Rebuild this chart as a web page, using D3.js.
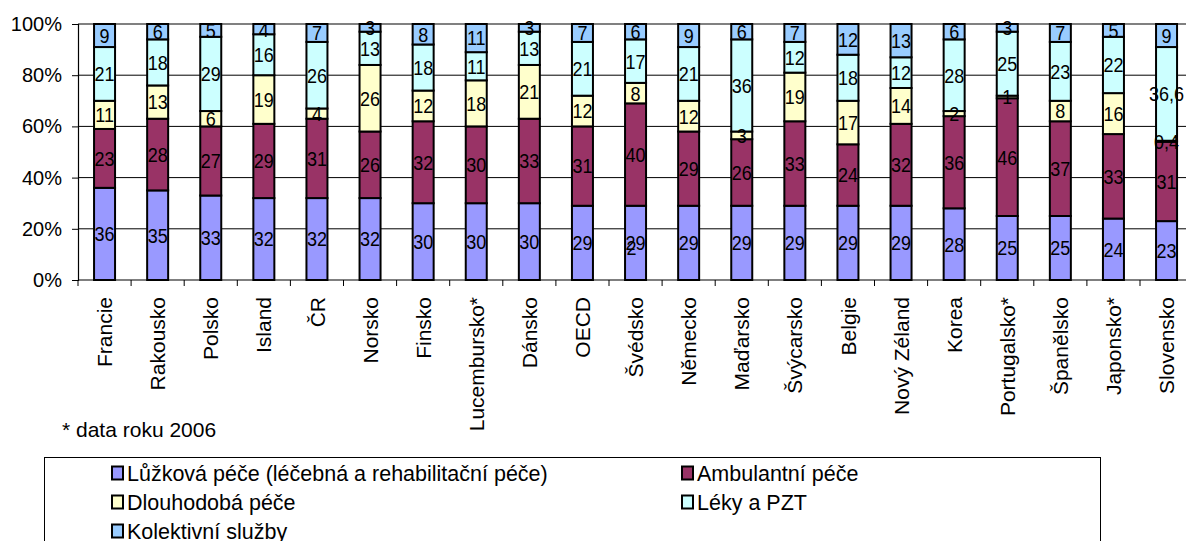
<!DOCTYPE html>
<html>
<head>
<meta charset="utf-8">
<script src="https://cdn.jsdelivr.net/npm/d3@7"></script>
<style>
  html, body { margin: 0; padding: 0; background: #fff; overflow: hidden; }
  svg { display: block; font-family: "Liberation Sans", Arial, sans-serif; }
</style>
</head>
<body>
<svg id="chart" width="1186" height="541"></svg>
<script>
// Struktura výdajů na zdravotnictví podle funkcí (%)
const categories = ["Francie", "Rakousko", "Polsko", "Island", "ČR", "Norsko", "Finsko",
  "Lucembursko*", "Dánsko", "OECD", "Švédsko", "Německo", "Maďarsko", "Švýcarsko",
  "Belgie", "Nový Zéland", "Korea", "Portugalsko*", "Španělsko", "Japonsko*", "Slovensko"];

const luzkova     = [36, 35, 33, 32, 32, 32, 30, 30, 30, 29, 29, 29, 29, 29, 29, 29, 28, 25, 25, 24, 23];
const ambulantni  = [23, 28, 27, 29, 31, 26, 32, 30, 33, 31, 40, 29, 26, 33, 24, 32, 36, 46, 37, 33, 31];
const dlouhodoba  = [11, 13, 6, 19, 4, 26, 12, 18, 21, 12, 8, 12, 3, 19, 17, 14, 2, 1, 8, 16, 0.4];
const leky        = [21, 18, 29, 16, 26, 13, 18, 11, 13, 21, 17, 21, 36, 12, 18, 12, 28, 25, 23, 22, 36.6];
const kolektivni  = [9, 6, 5, 4, 7, 3, 8, 11, 3, 7, 6, 9, 6, 7, 12, 13, 6, 3, 7, 5, 9];

const seriesNames = [
  "Lůžková péče (léčebná a rehabilitační péče)",
  "Ambulantní péče",
  "Dlouhodobá péče",
  "Léky a PZT",
  "Kolektivní služby"
];
const seriesColors = ["#9999FF", "#993366", "#FFFFCC", "#CCFFFF", "#99CCFF"];
const yTicks = [0, 20, 40, 60, 80, 100];
const footnote = "* data roku 2006";

const keys = ["s0", "s1", "s2", "s3", "s4"];
const columns = [luzkova, ambulantni, dlouhodoba, leky, kolektivni];
const table = categories.map((c, i) => {
  const row = { category: c };
  keys.forEach((k, j) => row[k] = columns[j][i]);
  return row;
});

const svg = d3.select("#chart");
const plot = { left: 78, top: 24, bottom: 280, band: 53.1 };
plot.right = plot.left + plot.band * categories.length;

const x = d3.scaleBand().domain(categories).range([plot.left, plot.right]).paddingInner(0).paddingOuter(0);
const y = d3.scaleLinear().domain([0, 100]).range([plot.bottom, plot.top]);

// horizontal gridlines
svg.append("g")
  .selectAll("line")
  .data(yTicks.filter(t => t > 0 && t < 100))
  .join("line")
  .attr("x1", plot.left).attr("x2", plot.right)
  .attr("y1", d => y(d)).attr("y2", d => y(d))
  .attr("stroke", "#000").attr("stroke-width", 1);

// top frame line
svg.append("line")
  .attr("x1", plot.left).attr("x2", plot.right)
  .attr("y1", y(100)).attr("y2", y(100))
  .attr("stroke", "#808080").attr("stroke-width", 2);

// y axis
const yAxis = svg.append("g")
  .attr("transform", `translate(${plot.left},0)`)
  .call(d3.axisLeft(y).tickValues(yTicks).tickFormat(d => d + "%").tickSize(6).tickPadding(10));
yAxis.select(".domain").attr("stroke", "#000").attr("stroke-width", 1.2);
yAxis.selectAll(".tick line").attr("stroke", "#000");
yAxis.selectAll("text").attr("font-size", 20).attr("fill", "#000")
  .attr("font-family", "'Liberation Sans', Arial, sans-serif");

// stacked bars
const stacked = d3.stack().keys(keys)(table);
const barW = 21;
const groups = svg.append("g").selectAll("g")
  .data(stacked)
  .join("g")
  .attr("fill", (d, i) => seriesColors[i]);

groups.selectAll("rect")
  .data(d => d)
  .join("rect")
  .attr("x", d => x(d.data.category) + x.bandwidth() / 2 - barW / 2)
  .attr("width", barW)
  .attr("y", d => y(d[1]))
  .attr("height", d => y(d[0]) - y(d[1]))
  .attr("stroke", "#000")
  .attr("stroke-width", 2);

// value labels (slightly tall glyphs)
const fmt = v => String(v).replace(".", ",");
const labels = svg.append("g")
  .attr("font-size", 18)
  .attr("text-anchor", "middle")
  .attr("fill", "#000");
const addLabel = (cx, cy, txt) => labels.append("text")
  .attr("transform", `translate(${cx},${cy}) scale(1,1.14)`)
  .attr("dy", "0.36em")
  .text(txt);
stacked.forEach(s => {
  s.forEach(d => {
    const v = d[1] - d[0];
    addLabel(x(d.data.category) + x.bandwidth() / 2, y((d[0] + d[1]) / 2), fmt(Math.round(v * 10) / 10));
  });
});
// stray label inside the Švédsko bar
addLabel(x("Švédsko") + x.bandwidth() / 2 - 4, y(12.5), "2");

// x axis
const xAxis = svg.append("g")
  .attr("transform", `translate(0,${plot.bottom})`);
xAxis.append("line")
  .attr("x1", plot.left).attr("x2", plot.right)
  .attr("stroke", "#000").attr("stroke-width", 1.2);
xAxis.selectAll(".tk")
  .data(categories)
  .join("line")
  .attr("class", "tk")
  .attr("x1", d => x(d)).attr("x2", d => x(d))
  .attr("y1", 0).attr("y2", 6)
  .attr("stroke", "#000");
xAxis.selectAll("text")
  .data(categories)
  .join("text")
  .attr("transform", d => `translate(${x(d) + x.bandwidth() / 2},17) rotate(-90)`)
  .attr("text-anchor", "end")
  .attr("dy", "0.36em")
  .attr("font-size", 21)
  .attr("fill", "#000")
  .text(d => d);

// footnote
svg.append("text")
  .attr("x", 62).attr("y", 437)
  .attr("font-size", 21)
  .attr("fill", "#000")
  .text(footnote);

// legend
const legend = svg.append("g");
legend.append("rect")
  .attr("x", 44.5).attr("y", 457.5)
  .attr("width", 1056).attr("height", 120)
  .attr("fill", "#fff").attr("stroke", "#000").attr("stroke-width", 1);
const legendPos = [
  { x: 112, y: 473 }, { x: 682, y: 473 },
  { x: 112, y: 502 }, { x: 682, y: 502 },
  { x: 112, y: 531 }
];
seriesNames.forEach((name, i) => {
  const p = legendPos[i];
  legend.append("rect")
    .attr("x", p.x).attr("y", p.y - 6.5)
    .attr("width", 11).attr("height", 13)
    .attr("fill", seriesColors[i]).attr("stroke", "#000").attr("stroke-width", 2);
  legend.append("text")
    .attr("x", p.x + 15).attr("y", p.y)
    .attr("dy", "0.36em")
    .attr("font-size", 21.5)
    .attr("fill", "#000")
    .text(name);
});
</script>
</body>
</html>
